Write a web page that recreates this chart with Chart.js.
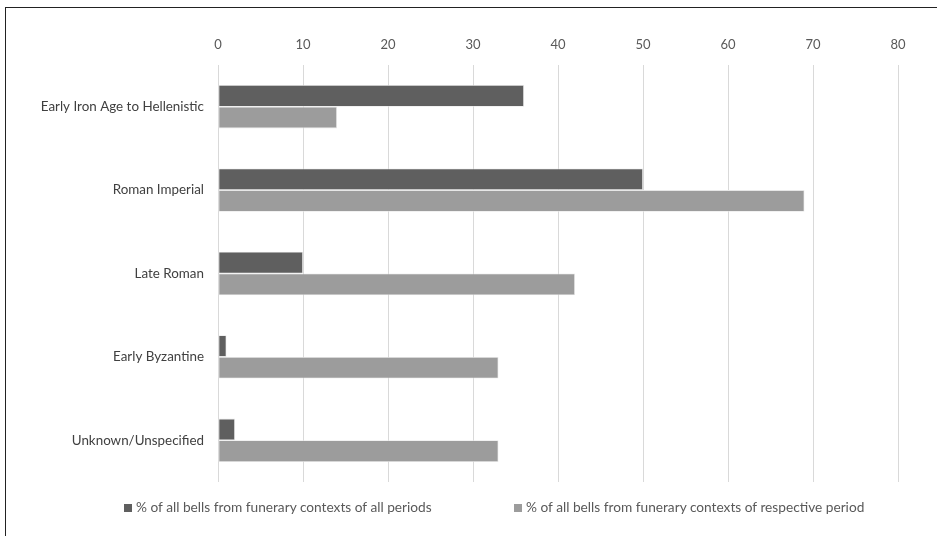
<!DOCTYPE html>
<html>
<head>
<meta charset="utf-8">
<script src="https://cdn.jsdelivr.net/npm/chart.js@4"></script>
<style>
    html, body { margin: 0; padding: 0; background: #fff; }
    body { width: 937px; height: 536px; position: relative; overflow: hidden; font-family: Lato, 'Noto Sans', sans-serif; }
    .frame { position: absolute; left: 5px; top: 7px; width: 960px; height: 560px; border-left: 1.5px solid #222; border-top: 1.5px solid #222; }
    .chart-box { position: absolute; left: 0; top: 0; width: 937px; height: 536px; }
    .legend { position: absolute; top: 498px; left: 0; width: 937px; font-size: 13.7px; color: #595959; }
    .legend span { position: absolute; white-space: nowrap; line-height: 18px; }
    .legend i { display: inline-block; width: 8px; height: 8px; margin-right: 4px; vertical-align: 0px; }
</style>
</head>
<body>
<div class="frame"></div>
<div class="chart-box"><canvas id="chart" width="937" height="536"></canvas></div>
<div class="legend" id="legend"></div>
<script>
const categories = ['Early Iron Age to Hellenistic', 'Roman Imperial', 'Late Roman', 'Early Byzantine', 'Unknown/Unspecified'];
const seriesNames = ['% of all bells from funerary contexts of all periods', '% of all bells from funerary contexts of respective period'];
const allPeriods = [36, 50, 10, 1, 2];
const respectivePeriod = [14, 69, 42, 33, 33];
const xTicks = [0, 10, 20, 30, 40, 50, 60, 70, 80];
const colors = ['#5f5f5f', '#9c9c9c'];

const legendX = [124, 514];
const legendEl = document.getElementById('legend');
seriesNames.forEach((name, i) => {
    const s = document.createElement('span');
    s.style.left = legendX[i] + 'px';
    s.innerHTML = '<i style="background:' + colors[i] + '"></i>' + name;
    legendEl.appendChild(s);
});

const ctx = document.getElementById('chart').getContext('2d');
new Chart(ctx, {
    type: 'bar',
    data: {
        labels: categories,
        datasets: [
            { label: seriesNames[0], data: allPeriods, backgroundColor: colors[0], borderColor: '#e6e6e6', borderWidth: 0.8, borderSkipped: false },
            { label: seriesNames[1], data: respectivePeriod, backgroundColor: colors[1], borderColor: '#e6e6e6', borderWidth: 0.8, borderSkipped: false }
        ]
    },
    options: {
        indexAxis: 'y',
        responsive: false,
        animation: false,
        layout: { padding: { left: 0, right: 39, top: 0, bottom: 54 } },
        plugins: { legend: { display: false }, tooltip: { enabled: false } },
        datasets: { bar: { categoryPercentage: 0.52, barPercentage: 1 } },
        scales: {
            x: {
                position: 'top',
                min: 0, max: 80,
                afterBuildTicks: s => { s.ticks = xTicks.map(v => ({ value: v })); },
                afterFit: s => { s.height = 65; },
                grid: { color: '#d9d9d9', lineWidth: 1, drawTicks: false },
                border: { display: false },
                ticks: { color: '#595959', padding: 12, font: { family: 'Lato', size: 13 } }
            },
            y: {
                afterFit: s => { s.width = 218; },
                grid: { display: false, drawTicks: false },
                border: { display: false },
                ticks: { color: '#404040', padding: 14, font: { family: 'Lato', size: 13.4 } }
            }
        }
    }
});
</script>
</body>
</html>
